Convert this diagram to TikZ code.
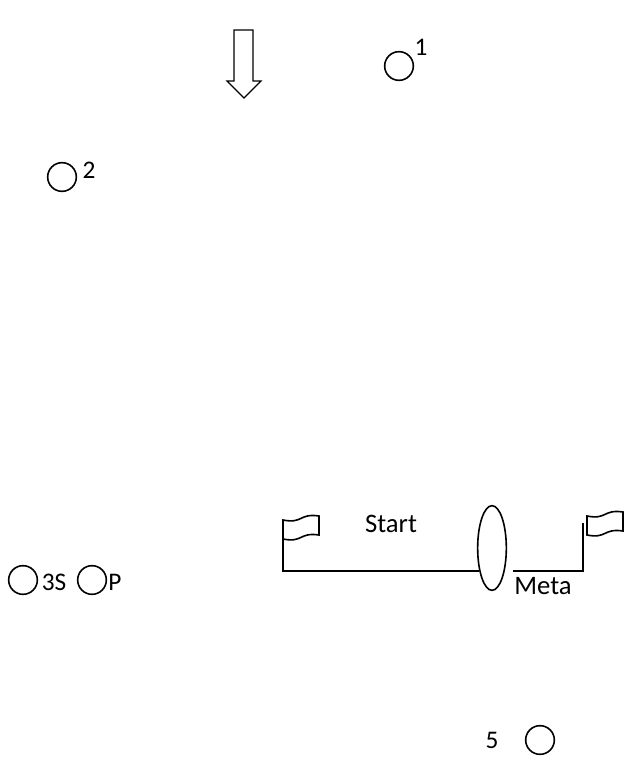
\documentclass[tikz,border=0pt]{standalone}
\usepackage{fontspec}
\setmainfont{Carlito}
\usetikzlibrary{shapes.geometric}
\begin{document}
\begin{tikzpicture}[x=0.75pt, y=-0.75pt, line width=1.2pt, ring/.style={draw, circle, minimum size=21.5pt, inner sep=0pt}, lbl/.style={font=\fontsize{19}{22}\selectfont, inner sep=0pt}, big/.style={font=\fontsize{20}{24}\selectfont, inner sep=0pt}, gate/.style={draw, ellipse, minimum width=21.5pt, minimum height=63.5pt, inner sep=0pt}]
	\useasboundingbox (0,0) rectangle (625,782);
	\draw[line width=0.9pt] (234,30) -- (253,30) -- (253,81) -- (261,81) -- (244,98) -- (227,81) -- (234,81) -- cycle;
	\node[ring] (R1) at (399,66) {};
	\node[lbl] (T1) at (421,47) {1};
	\node[ring] (R2) at (62,177) {};
	\node[lbl] (T2) at (89,170) {2};
	\node[ring] (R3) at (23,580) {};
	\node[lbl] (T3) at (54,582) {3S};
	\node[ring] (R4) at (92,580) {};
	\node[lbl] (T4) at (115,582) {P};
	\node[lbl] (T5) at (492,740) {5};
	\node[ring] (R5) at (540,740) {};
	\node[big] (S) at (391,524) {Start};
	\node[big] (M) at (543,586) {Meta};
	\node[gate] (G) at (492,548) {};
	\coordinate (P1) at (283,520);
	\coordinate (B1) at (283,571);
	\coordinate (E1) at (479,571);
	\coordinate (E2) at (513,571);
	\coordinate (B2) at (583,571);
	\coordinate (P2) at (583,523);
	\draw (P1) -- (B1) -- (E1);
	\draw (E2) -- (B2) -- (P2);
	\foreach \x/\y in {283/516, 587/512}
		\draw (\x,\y+4) .. controls (\x+20,\y+8) and (\x+16,\y-3) .. (\x+36,\y) -- (\x+36,\y+19) .. controls (\x+16,\y+16) and (\x+20,\y+27) .. (\x,\y+23) -- cycle;
\end{tikzpicture}
\end{document}
